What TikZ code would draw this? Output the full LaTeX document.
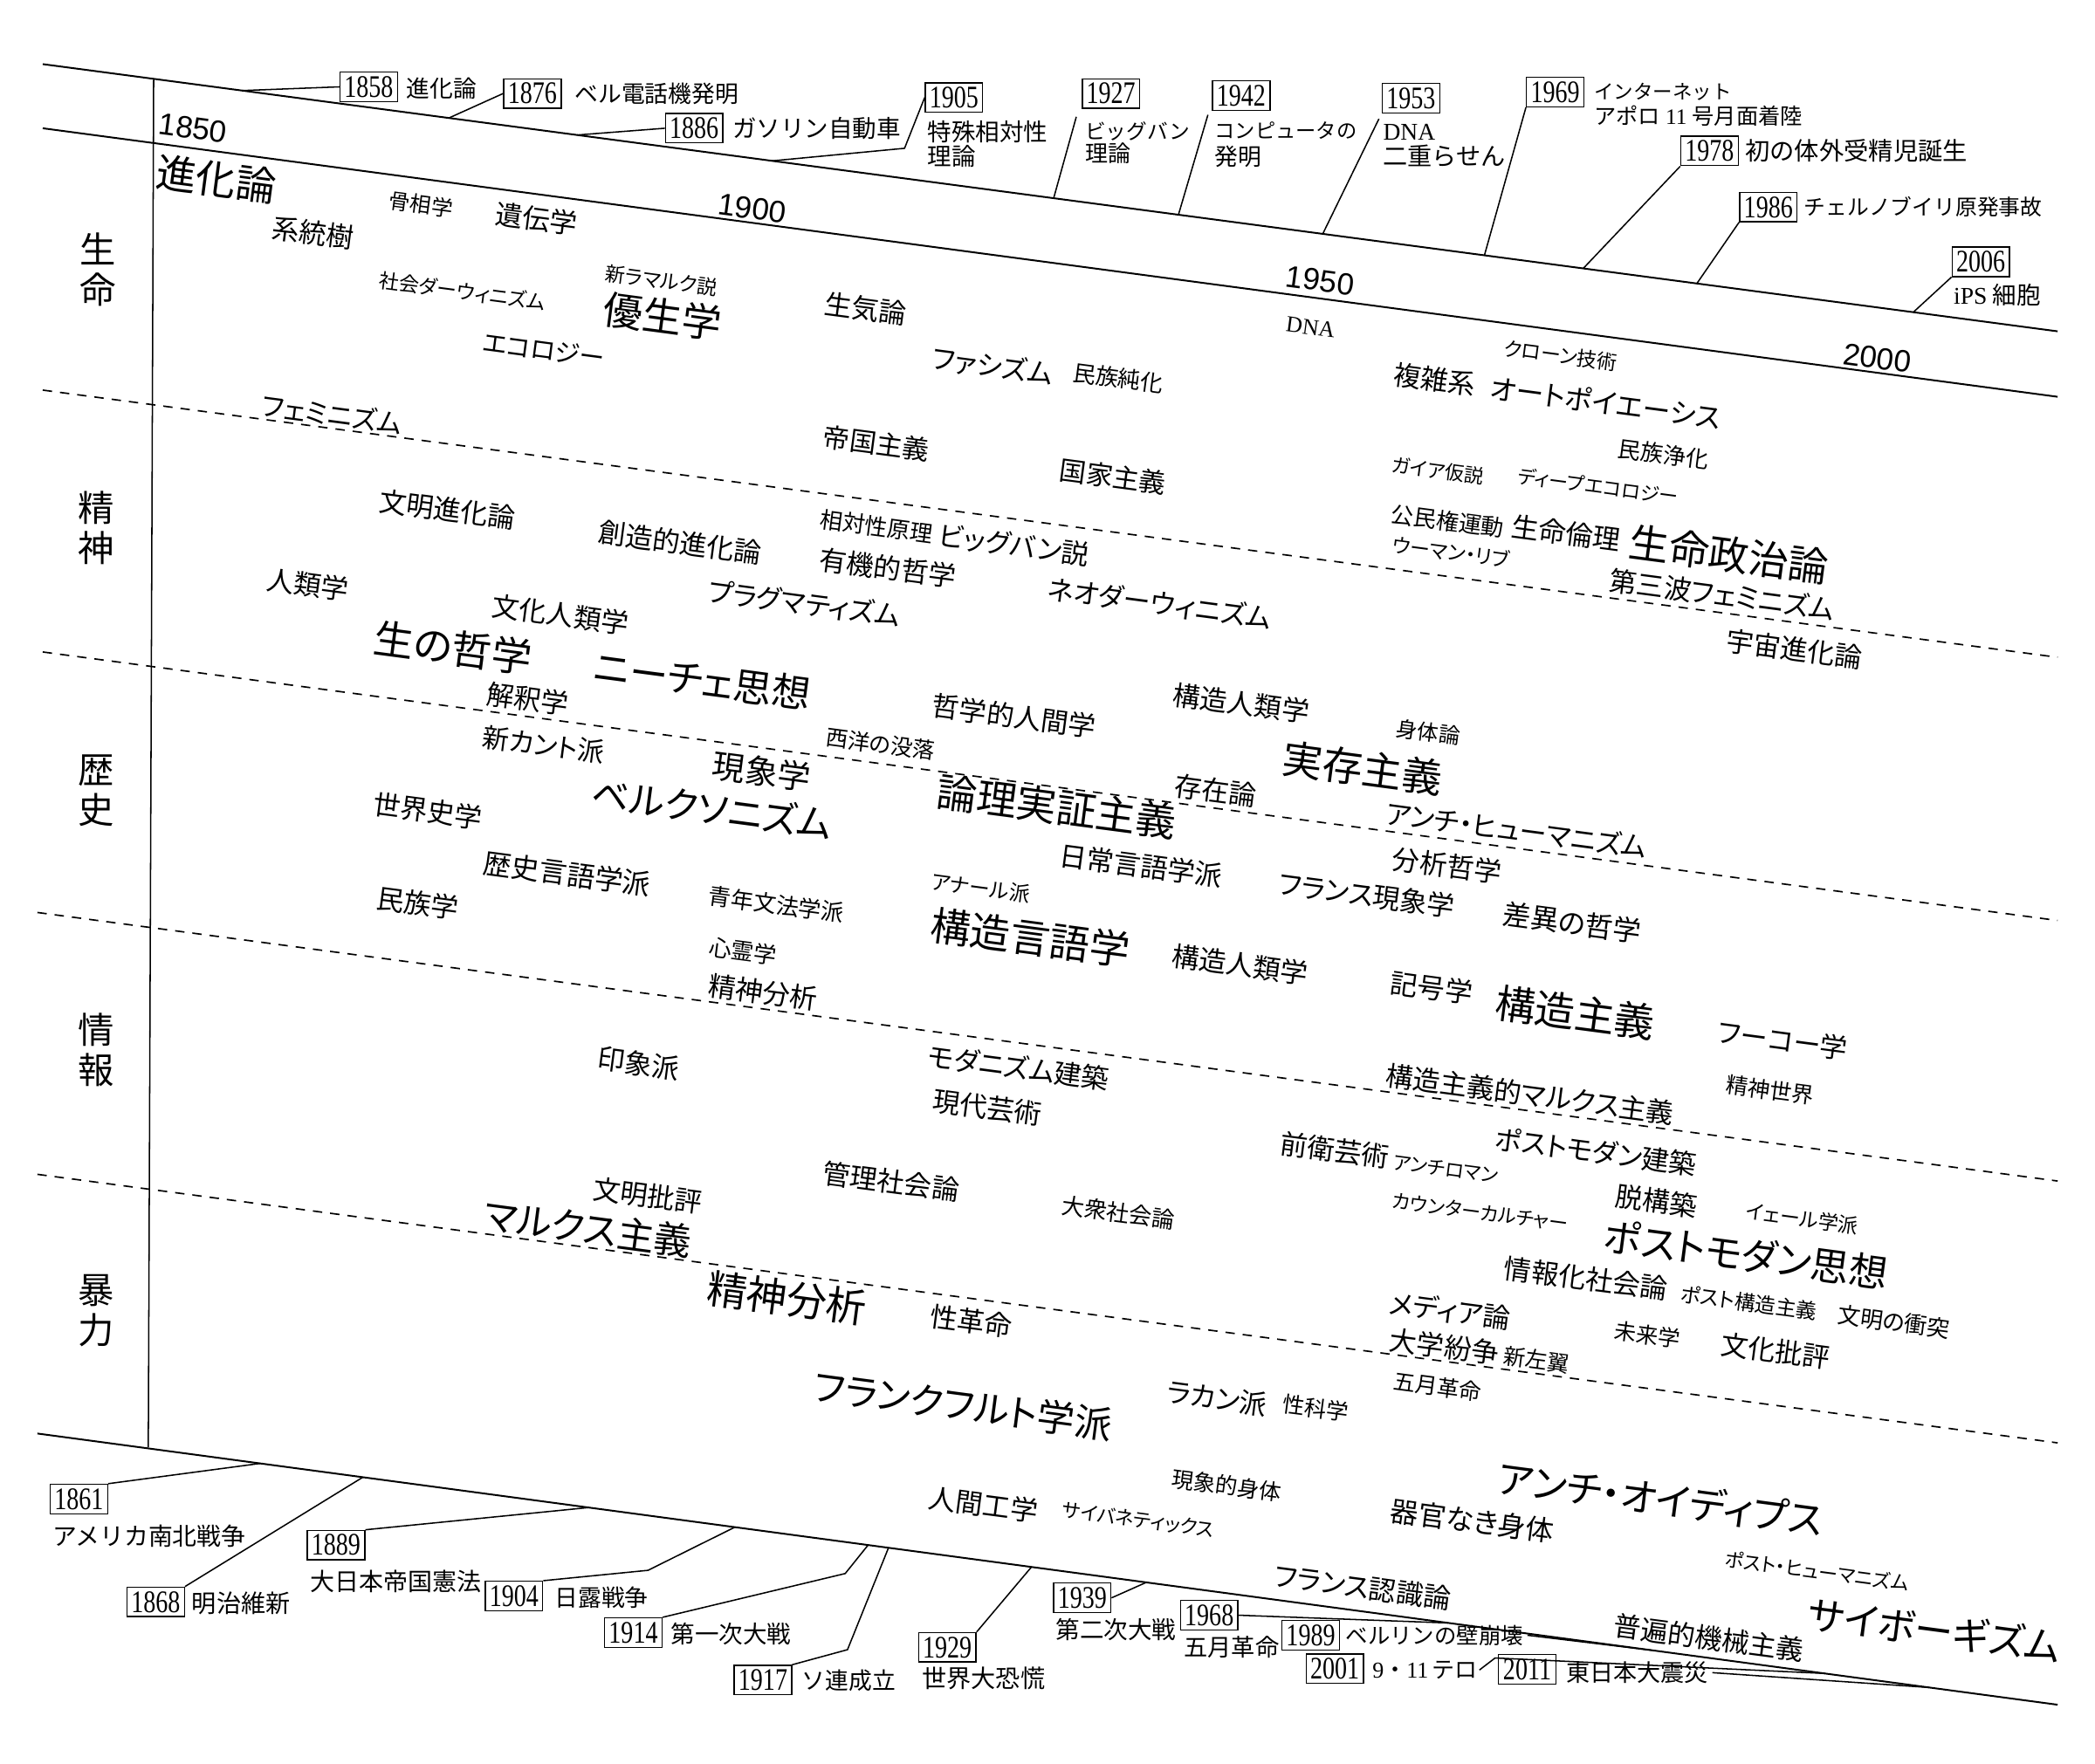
\documentclass[tikz,border=0pt]{standalone}
\usepackage{fontspec}
\setmainfont{Liberation Serif}
\newfontfamily\jp{Noto Sans CJK JP}[RawFeature={+palt}]
\newfontfamily\jpm{Noto Sans CJK JP}
\newfontfamily\yr{Liberation Serif}[FakeStretch=0.78]
\newfontfamily\ys{Liberation Sans}
\tikzset{
 kw/.style={rotate=-7.55, inner sep=0pt},
 yrbox/.style={draw, line width=0.9pt, inner sep=0pt, minimum width=43pt, minimum height=22pt, font=\yr\fontsize{23.5}{23.5}\selectfont},
 ev/.style={inner sep=0pt, anchor=west},
 axisline/.style={line width=1.3pt},
 bandline/.style={line width=1.1pt, dash pattern=on 7pt off 6pt},
 lead/.style={line width=1pt},
 yl/.style={rotate=-7.55, inner sep=0pt, font=\ys\fontsize{23}{23}\selectfont},
 bandlab/.style={inner sep=0pt, align=center, font=\jpm\fontsize{27}{30}\selectfont},
}
\newcommand\Kw[5]{\node[kw,font=\jp\fontsize{#4}{#4}\selectfont] (#1) at (#2,#3) {#5};}
\newcommand\Ev[5]{\node[ev,font=\jpm\fontsize{#4}{#4}\selectfont] (#1) at (#2,#3) {#5};}
\begin{document}
\begin{tikzpicture}[x=1pt,y=-1pt]
\fill[white] (0,0) rectangle (1568,1320);
\useasboundingbox (0,0) rectangle (1568,1320);
% frame lines
\coordinate (A0) at (32,48); \coordinate (A1) at (1540,248);
\coordinate (B0) at (32,96); \coordinate (B1) at (1540,297);
\coordinate (C0) at (28,1073); \coordinate (C1) at (1540,1276);
\coordinate (V0) at (115,59); \coordinate (V1) at (111,1083.4);
\coordinate (D1a) at (32,292); \coordinate (D1b) at (1540,492);
\coordinate (D2a) at (32,488); \coordinate (D2b) at (1540,689);
\coordinate (D3a) at (28,683); \coordinate (D3b) at (1540,884);
\coordinate (D4a) at (28,879); \coordinate (D4b) at (1540,1080);
\draw[axisline] (A0) -- (A1);
\draw[axisline] (B0) -- (B1);
\draw[axisline] (C0) -- (C1);
\draw[lead] (V0) -- (V1);
\draw[bandline] (D1a) -- (D1b);
\draw[bandline] (D2a) -- (D2b);
\draw[bandline] (D3a) -- (D3b);
\draw[bandline] (D4a) -- (D4b);
% year labels
\node[yl] (t1850) at (144.5,96) {1850};
\node[yl] (t1900) at (563,156) {1900};
\node[yl] (t1950) at (988,210) {1950};
\node[yl] (t2000) at (1405,268) {2000};
% band labels
\node[bandlab] (L1) at (73,202) {生\\命};
\node[bandlab] (L2) at (72,395) {精\\神};
\node[bandlab] (L3) at (72,591.5) {歴\\史};
\node[bandlab] (L4) at (72,786) {情\\報};
\node[bandlab] (L5) at (72,981) {暴\\力};
% ===== top events =====
\node[yrbox] (y1858) at (276,65) {1858};
\Ev{e1858}{304}{66}{17.5}{進化論}
\node[yrbox] (y1876) at (398.5,70) {1876};
\Ev{e1876}{430}{70}{17.5}{ベル電話機発明}
\node[yrbox] (y1886) at (519.5,96) {1886};
\Ev{e1886}{548}{96}{18}{ガソリン自動車}
\node[yrbox] (y1905) at (714,73) {1905};
\Ev{e1905a}{694}{99}{18}{特殊相対性}
\Ev{e1905b}{694}{117}{18}{理論}
\node[yrbox] (y1927) at (831.5,70) {1927};
\Ev{e1927a}{812}{98}{15.5}{ビッグバン}
\Ev{e1927b}{812}{115}{17}{理論}
\node[yrbox] (y1942) at (929,71.5) {1942};
\Ev{e1942a}{909}{98}{15.2}{コンピュータの}
\Ev{e1942b}{909}{117}{17.5}{発明}
\node[yrbox] (y1953) at (1056,73.5) {1953};
\node[ev,font=\rmfamily\fontsize{18}{18}\selectfont] (e1953a) at (1035,99) {DNA};
\Ev{e1953b}{1035}{117}{18.4}{二重らせん}
\node[yrbox] (y1969) at (1164,69) {1969};
\Ev{e1969a}{1193}{69}{14.7}{インターネット}
\Ev{e1969b}{1193}{87}{16.5}{アポロ\hspace{4pt}{\rmfamily 11}\hspace{4pt}号月面着陸}
\node[yrbox] (y1978) at (1279.5,113) {1978};
\Ev{e1978}{1306}{113}{18.5}{初の体外受精児誕生}
\node[yrbox] (y1986) at (1323.5,155) {1986};
\Ev{e1986}{1350}{155}{16.2}{チェルノブイリ原発事故}
\node[yrbox] (y2006) at (1482.5,196) {2006};
\Ev{e2006}{1462}{221}{18}{{\rmfamily iPS}\hspace{4pt}細胞}
% top leader end points
\coordinate (p1858) at (181,67.8);
\coordinate (p1876) at (336,88.3);
\coordinate (p1886) at (432,101.05);
\coordinate (q1905) at (677,111);
\coordinate (p1905) at (578,120.4);
\coordinate (p1927) at (788.6,148.35);
\coordinate (p1942) at (882,160.7);
\coordinate (p1953) at (990,175.06);
\coordinate (p1969) at (1111,191.1);
\coordinate (p1978) at (1185,200.9);
\coordinate (p1986) at (1270,212.2);
\coordinate (p2006) at (1432,233.7);
\draw[lead] (y1858.west) -- (p1858);
\draw[lead] (y1876.west) -- (p1876);
\draw[lead] (y1886.west) -- (p1886);
\draw[lead] (y1905.west) -- (q1905) -- (p1905);
\draw[lead] ([xshift=-4pt,yshift=-6pt]y1927.south west) -- (p1927);
\draw[lead] ([xshift=-3pt,yshift=-3pt]y1942.south west) -- (p1942);
\draw[lead] ([xshift=-2pt,yshift=-4pt]y1953.south west) -- (p1953);
\draw[lead] (y1969.south west) -- (p1969);
\draw[lead] (y1978.south west) -- (p1978);
\draw[lead] (y1986.south west) -- (p1986);
\draw[lead] (y2006.south west) -- (p2006);
% ===== bottom events =====
\node[yrbox] (y1861) at (59,1122) {1861};
\Ev{e1861}{39}{1149.5}{18.2}{アメリカ南北戦争}
\node[yrbox] (y1868) at (116.5,1199) {1868};
\Ev{e1868}{143.5}{1200}{18.4}{明治維新}
\node[yrbox] (y1889) at (251.5,1156.5) {1889};
\Ev{e1889}{232}{1184}{18.3}{大日本帝国憲法}
\node[yrbox] (y1904) at (384.7,1194.6) {1904};
\Ev{e1904}{415}{1196}{17.5}{日露戦争}
\node[yrbox] (y1914) at (474,1222) {1914};
\Ev{e1914}{502}{1223}{18}{第一次大戦}
\node[yrbox] (y1917) at (571,1257.5) {1917};
\Ev{e1917}{600}{1258}{17.5}{ソ連成立}
\node[yrbox] (y1929) at (709,1233) {1929};
\Ev{e1929}{690}{1256}{18.4}{世界大恐慌}
\node[yrbox] (y1939) at (810,1196) {1939};
\Ev{e1939}{790}{1220}{18}{第二次大戦}
\node[yrbox] (y1968) at (905,1209) {1968};
\Ev{e1968}{886}{1233}{17.8}{五月革命}
\node[yrbox] (y1989) at (981,1224) {1989};
\Ev{e1989}{1007}{1224}{16.6}{ベルリンの壁崩壊}
\node[yrbox] (y2001) at (999,1249) {2001};
\Ev{e2001}{1027}{1250}{17}{{\rmfamily 9}・{\rmfamily 11}\hspace{3pt}テロ}
\node[yrbox] (y2011) at (1143,1249.5) {2011};
\Ev{e2011}{1172}{1252}{17.7}{東日本大震災}
% bottom leader end points
\coordinate (p1861) at (194.7,1095.4);
\coordinate (p1868) at (271.6,1105.7);
\coordinate (p1889) at (440.7,1128.4);
\coordinate (q1904) at (485,1175.4);
\coordinate (p1904) at (550,1143.1);
\coordinate (q1914) at (632.6,1177.8);
\coordinate (p1914) at (649.7,1156.5);
\coordinate (q1917) at (634.3,1234.8);
\coordinate (p1917) at (665,1158.5);
\coordinate (p1929) at (772,1172.9);
\coordinate (p1939) at (858,1184.4);
\coordinate (p1968) at (1084,1214.8);
\coordinate (p1989) at (1236,1235.2);
\coordinate (q2001) at (1119,1241);
\coordinate (p2001) at (1366,1252.6);
\coordinate (p2011) at (1444,1263.1);
\draw[lead] (y1861.north east) -- (p1861);
\draw[lead] (y1868.north east) -- (p1868);
\draw[lead] (y1889.north east) -- (p1889);
\draw[lead] (y1904.north east) -- (q1904) -- (p1904);
\draw[lead] (y1914.north east) -- (q1914) -- (p1914);
\draw[lead] (y1917.north east) -- (q1917) -- (p1917);
\draw[lead] (y1929.north east) -- (p1929);
\draw[lead] (y1939.east) -- (p1939);
\draw[lead] (y1968.east) -- (p1968);
\draw[lead] ([xshift=3pt]e1989.east) -- (p1989);
\draw[lead] ([xshift=1pt]e2001.east) -- (q2001) -- (p2001);
\draw[lead] ([xshift=3pt]e2011.east) -- (p2011);
% ===== band 1: 生命 =====
\Kw{k01}{162}{134}{30}{進化論}
\Kw{k02}{315}{153}{16}{骨相学}
\Kw{k03}{401.5}{164}{20.5}{遺伝学}
\Kw{k04}{234.5}{174.5}{20.5}{系統樹}
\Kw{k05}{495}{210}{15}{新ラマルク説}
\Kw{k06}{346}{218}{15}{社会ダーウィニズム}
\Kw{k07}{496}{237}{29.5}{優生学}
\Kw{k08}{407}{262}{19}{エコロジー}
\Kw{k09}{648}{231}{20.5}{生気論}
\Kw{k10}{743}{274}{20.5}{ファシズム}
\Kw{k11}{837}{283}{17}{民族純化}
\node[kw,font=\rmfamily\fontsize{17}{17}\selectfont] (k12) at (981,245) {DNA};
\Kw{k13}{1168}{266}{15}{クローン技術}
\Kw{k14}{1074}{284}{20.5}{複雑系}
\Kw{k15}{1202}{301}{21}{オートポイエーシス}
% ===== band 2: 精神 =====
\Kw{k16}{248.5}{310}{20}{フェミニズム}
\Kw{k17}{656}{332}{20}{帝国主義}
\Kw{k18}{833}{357}{20}{国家主義}
\Kw{k19}{1245}{340}{17}{民族浄化}
\Kw{k20}{1076}{352.5}{14.5}{ガイア仮説}
\Kw{k21}{1196}{364}{14.5}{ディープエコロジー}
\Kw{k22}{335}{381.5}{20.5}{文明進化論}
\Kw{k23}{509}{406}{20.5}{創造的進化論}
\Kw{k24}{656}{394}{17}{相対性原理}
\Kw{k25}{759}{408}{20.5}{ビッグバン説}
\Kw{k26}{664.5}{425}{20.5}{有機的哲学}
\Kw{k27}{1083.5}{390}{17}{公民権運動}
\Kw{k28}{1172}{399}{20.5}{生命倫理}
\Kw{k29}{1294}{415}{30}{生命政治論}
\Kw{k30}{1086}{413}{15}{ウーマン・リブ}
\Kw{k31}{230.6}{437.5}{20.5}{人類学}
\Kw{k32}{419.5}{460}{20.5}{文化人類学}
\Kw{k33}{602}{451.6}{20.5}{プラグマティズム}
\Kw{k34}{868}{451.5}{20.5}{ネオダーウィニズム}
\Kw{k35}{1289}{445}{20.5}{第三波フェミニズム}
\Kw{k36}{1343}{486}{20.5}{宇宙進化論}
\Kw{k37}{339}{485}{30}{生の哲学}
\Kw{k38}{526}{509}{29}{ニーチェ思想}
% ===== band 3: 歴史 =====
\Kw{k39}{395}{523}{20.5}{解釈学}
\Kw{k40}{759}{536}{20.5}{哲学的人間学}
\Kw{k41}{929}{526.5}{20.5}{構造人類学}
\Kw{k42}{1069}{548}{16}{身体論}
\Kw{k43}{407}{557.5}{20}{新カント派}
\Kw{k44}{659}{557}{16.5}{西洋の没落}
\Kw{k45}{1020}{575}{30}{実存主義}
\Kw{k46}{570}{577.5}{24.5}{現象学}
\Kw{k47}{910}{591.5}{20.5}{存在論}
\Kw{k48}{320}{607}{20.5}{世界史学}
\Kw{k49}{533}{605}{28}{ベルクソニズム}
\Kw{k50}{791}{604}{30}{論理実証主義}
\Kw{k51}{1135}{621}{20.5}{アンチ・ヒューマニズム}
\Kw{k52}{854}{648}{20.5}{日常言語学派}
\Kw{k53}{1083}{648}{20.5}{分析哲学}
\Kw{k54}{424.5}{654}{21}{歴史言語学派}
\Kw{k55}{312.5}{676}{20.5}{民族学}
\Kw{k56}{581}{677}{17}{青年文法学派}
\Kw{k57}{734}{664.5}{15.5}{アナール派}
\Kw{k58}{1023}{670}{20.5}{フランス現象学}
\Kw{k59}{1176.6}{690.6}{21}{差異の哲学}
\Kw{k60}{771}{702}{30}{構造言語学}
% ===== band 4: 情報 =====
\Kw{k61}{556}{712}{17}{心霊学}
\Kw{k62}{928}{722}{20.5}{構造人類学}
\Kw{k63}{571}{742.6}{20.5}{精神分析}
\Kw{k64}{1071.5}{739.6}{20.5}{記号学}
\Kw{k65}{1179}{758}{30}{構造主義}
\Kw{k66}{1334.5}{778.6}{20.5}{フーコー学}
\Kw{k67}{478}{796}{20.5}{印象派}
\Kw{k68}{762.5}{799}{20.5}{モダニズム建築}
\Kw{k69}{1145}{819}{20.5}{構造主義的マルクス主義}
\Kw{k70}{1325}{816}{16.5}{精神世界}
\Kw{k71}{739}{829}{20.5}{現代芸術}
\Kw{k72}{999}{861}{20.5}{前衛芸術}
\Kw{k73}{1082}{875}{14.5}{アンチロマン}
\Kw{k74}{1194.5}{862}{20.5}{ポストモダン建築}
% ===== band 5: 暴力 =====
\Kw{k75}{485}{895}{20.5}{文明批評}
\Kw{k76}{440}{919.5}{28}{マルクス主義}
\Kw{k77}{667}{884.5}{20.5}{管理社会論}
\Kw{k78}{837}{907.6}{17}{大衆社会論}
\Kw{k79}{1108}{907.6}{14.5}{カウンターカルチャー}
\Kw{k80}{1240}{899}{20.5}{脱構築}
\Kw{k81}{1349}{912}{15}{イェール学派}
\Kw{k82}{1307}{939}{29}{ポストモダン思想}
\Kw{k83}{1187}{957}{20.5}{情報化社会論}
\Kw{k84}{1309}{975}{15.5}{ポスト構造主義}
\Kw{k85}{1417.6}{989.5}{17}{文明の衝突}
\Kw{k86}{1085}{981}{20.5}{メディア論}
\Kw{k87}{1233}{999}{16.5}{未来学}
\Kw{k88}{1329}{1011}{20.5}{文化批評}
\Kw{k89}{1081}{1008}{20.5}{大学紛争}
\Kw{k90}{1150}{1018}{16.5}{新左翼}
\Kw{k91}{1076}{1038}{16.5}{五月革命}
\Kw{k92}{589}{972}{30}{精神分析}
\Kw{k93}{727}{989}{20.5}{性革命}
\Kw{k94}{721}{1052}{28}{フランクフルト学派}
\Kw{k95}{911}{1046.5}{20.5}{ラカン派}
\Kw{k96}{984.6}{1054}{16.5}{性科学}
\Kw{k97}{736}{1126}{20.5}{人間工学}
\Kw{k98}{852}{1137.6}{14.5}{サイバネティックス}
\Kw{k99}{918}{1112}{16.5}{現象的身体}
\Kw{k100}{1243}{1122}{29}{アンチ・オイディプス}
\Kw{k101}{1102}{1138.5}{21}{器官なき身体}
\Kw{k102}{1360}{1176}{14.5}{ポスト・ヒューマニズム}
\Kw{k103}{1020}{1188}{20.5}{フランス認識論}
\Kw{k104}{1279}{1226}{20.5}{普遍的機械主義}
\Kw{k105}{1448}{1220}{29}{サイボーギズム}
\end{tikzpicture}
\end{document}
